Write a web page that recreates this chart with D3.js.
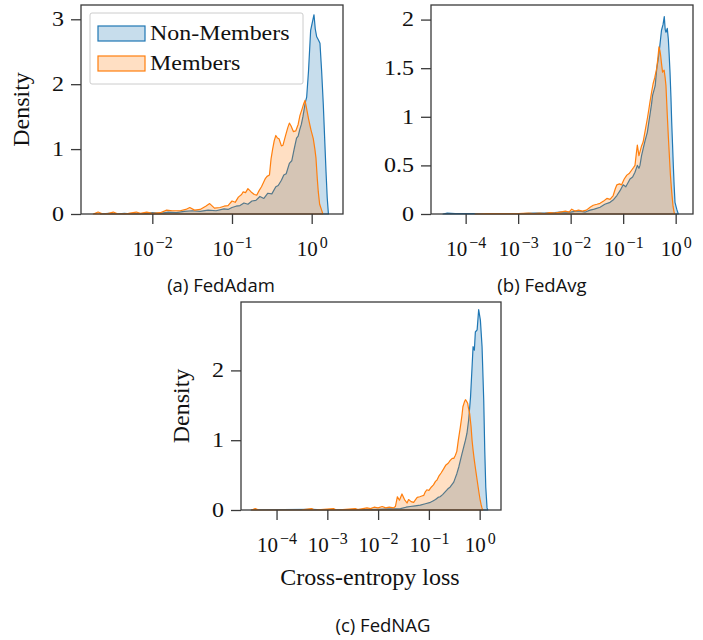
<!DOCTYPE html>
<html lang="en">
<head>
<meta charset="UTF-8">
<title>Loss density, members vs non-members</title>
<script src="https://cdn.jsdelivr.net/npm/d3@7"></script>
<style>
  body { margin: 0; background: #fff; }
</style>
</head>
<body>
<script>
// each point: [log10(cross-entropy loss), density]
const adamNon = [[-2.65,0],[-2.55,0.01],[-2.45,0],[-2.35,0.01],[-2.25,0],[-2.1,0.01],[-2.0,0.02],[-1.9,0.01],[-1.8,0.03],
  [-1.7,0.02],[-1.6,0.04],[-1.5,0.05],[-1.4,0.04],[-1.3,0.06],[-1.2,0.05],[-1.1,0.08],[-1.05,0.07],[-1.0,0.10],[-0.95,0.12],
  [-0.9,0.13],[-0.85,0.17],[-0.8,0.15],[-0.75,0.2],[-0.7,0.21],[-0.65,0.27],[-0.6,0.24],[-0.55,0.32],[-0.5,0.31],[-0.45,0.42],
  [-0.42,0.44],[-0.38,0.52],[-0.35,0.6],[-0.32,0.62],[-0.28,0.78],[-0.25,0.82],[-0.22,1.0],[-0.19,1.17],[-0.17,1.2],[-0.15,1.3],
  [-0.13,1.38],[-0.11,1.5],[-0.08,1.72],[-0.063,1.8],[-0.04,2.2],[-0.013,2.83],[0.029,3.07],[0.045,2.85],[0.063,2.73],
  [0.085,2.68],[0.104,2.63],[0.125,2.2],[0.146,1.68],[0.165,1.1],[0.18,0.65],[0.195,0.25],[0.21,0]];
const adamMem = [[-2.74,0],[-2.68,0.03],[-2.62,0],[-2.55,0.01],[-2.49,0.03],[-2.43,0],[-2.3,0.01],[-2.2,0.03],[-2.15,0.01],
  [-2.07,0.03],[-2.0,0.01],[-1.9,0.02],[-1.82,0.06],[-1.75,0.05],[-1.65,0.05],[-1.58,0.07],[-1.53,0.1],[-1.47,0.06],[-1.40,0.07],
  [-1.33,0.12],[-1.28,0.16],[-1.22,0.09],[-1.15,0.1],[-1.1,0.12],[-1.05,0.13],[-1.0,0.2],[-0.96,0.18],[-0.92,0.26],[-0.88,0.3],
  [-0.86,0.34],[-0.83,0.33],[-0.80,0.39],[-0.76,0.34],[-0.72,0.3],[-0.69,0.29],[-0.66,0.36],[-0.63,0.42],[-0.58,0.55],
  [-0.56,0.58],[-0.53,0.6],[-0.51,0.85],[-0.49,1.0],[-0.47,1.13],[-0.45,1.21],[-0.43,1.17],[-0.41,1.16],[-0.38,1.05],
  [-0.36,1.06],[-0.33,1.2],[-0.30,1.33],[-0.28,1.40],[-0.26,1.36],[-0.23,1.27],[-0.2,1.28],[-0.17,1.38],[-0.147,1.52],
  [-0.12,1.62],[-0.1,1.7],[-0.084,1.75],[-0.06,1.6],[-0.04,1.47],[-0.01,1.3],[0.02,1.16],[0.04,1.0],[0.054,0.86],[0.07,0.55],
  [0.083,0.34],[0.1,0.15],[0.125,0.06],[0.14,0]];

const avgNon = [[-4.43,0],[-4.35,0.01],[-4.2,0.005],[-4.0,0.005],[-3.85,0.005],[-3.6,0],[-3.2,0.003],[-2.9,0.003],[-2.7,0.01],
  [-2.5,0.01],[-2.3,0.015],[-2.2,0.02],[-2.1,0.02],[-2.0,0.02],[-1.9,0.03],[-1.82,0.03],[-1.72,0.02],[-1.63,0.04],[-1.55,0.05],
  [-1.44,0.07],[-1.35,0.1],[-1.25,0.12],[-1.18,0.15],[-1.12,0.19],[-1.06,0.24],[-1.0,0.3],[-0.95,0.28],[-0.9,0.33],[-0.87,0.36],
  [-0.82,0.38],[-0.775,0.43],[-0.73,0.5],[-0.7,0.47],[-0.68,0.5],[-0.65,0.6],[-0.62,0.67],[-0.58,0.76],[-0.54,0.84],[-0.51,0.95],
  [-0.49,1.02],[-0.46,1.13],[-0.44,1.22],[-0.41,1.28],[-0.39,1.32],[-0.36,1.5],[-0.33,1.6],[-0.3,1.74],[-0.27,1.89],[-0.24,1.95],
  [-0.217,2.03],[-0.2,1.9],[-0.185,1.87],[-0.16,1.91],[-0.14,1.8],[-0.125,1.65],[-0.108,1.46],[-0.09,1.2],[-0.076,0.95],
  [-0.06,0.72],[-0.045,0.5],[-0.03,0.3],[-0.013,0.12],[0.02,0.05],[0.05,0]];
const avgMem = [[-3.82,0],[-3.6,0.003],[-3.3,0.003],[-3.0,0.005],[-2.8,0.01],[-2.7,0.005],[-2.6,0.01],[-2.5,0.005],[-2.4,0.015],
  [-2.3,0.01],[-2.2,0.02],[-2.1,0.03],[-2.03,0.02],[-1.98,0.05],[-1.92,0.03],[-1.85,0.04],[-1.78,0.03],[-1.7,0.04],[-1.63,0.07],
  [-1.57,0.09],[-1.5,0.1],[-1.44,0.11],[-1.38,0.13],[-1.31,0.16],[-1.25,0.15],[-1.19,0.19],[-1.15,0.26],[-1.12,0.3],[-1.07,0.31],
  [-1.03,0.3],[-0.98,0.36],[-0.93,0.4],[-0.88,0.42],[-0.84,0.45],[-0.8,0.48],[-0.775,0.5],[-0.75,0.62],[-0.73,0.71],[-0.7,0.6],
  [-0.68,0.64],[-0.65,0.7],[-0.62,0.74],[-0.58,0.86],[-0.54,0.98],[-0.51,1.08],[-0.49,1.15],[-0.46,1.25],[-0.43,1.34],[-0.4,1.4],
  [-0.36,1.5],[-0.34,1.6],[-0.318,1.72],[-0.3,1.68],[-0.286,1.63],[-0.27,1.55],[-0.25,1.46],[-0.22,1.48],[-0.2,1.4],[-0.185,1.32],
  [-0.16,1.02],[-0.14,0.8],[-0.12,0.6],[-0.1,0.4],[-0.076,0.23],[-0.05,0.08],[-0.03,0.02],[-0.02,0]];

const nagNon = [[-4.5,0],[-3.3,0.01],[-3.0,0],[-2.5,0.005],[-2.0,0.01],[-1.8,0.015],[-1.56,0.02],[-1.45,0.04],[-1.37,0.05],
  [-1.27,0.06],[-1.17,0.07],[-1.07,0.09],[-0.97,0.11],[-0.92,0.13],[-0.87,0.15],[-0.82,0.18],[-0.78,0.19],[-0.73,0.22],
  [-0.68,0.26],[-0.63,0.3],[-0.58,0.33],[-0.54,0.37],[-0.51,0.4],[-0.48,0.46],[-0.45,0.52],[-0.41,0.62],[-0.38,0.71],[-0.35,0.8],
  [-0.315,0.9],[-0.28,1.0],[-0.25,1.1],[-0.217,1.29],[-0.18,1.62],[-0.15,2.05],[-0.13,2.34],[-0.115,2.3],[-0.105,2.29],
  [-0.085,2.55],[-0.05,2.58],[-0.02,2.87],[0.014,2.72],[0.047,2.34],[0.08,1.57],[0.1,0.86],[0.12,0.33],[0.145,0.03],[0.16,0]];
const nagMem = [[-4.49,0],[-4.42,0.02],[-4.35,0],[-3.5,0.003],[-3.31,0.02],[-3.25,0],[-2.88,0.02],[-2.82,0],[-2.45,0.02],
  [-2.4,0.005],[-2.22,0.03],[-2.15,0.02],[-2.08,0.04],[-2.0,0.03],[-1.92,0.05],[-1.85,0.03],[-1.78,0.04],[-1.70,0.03],
  [-1.66,0.05],[-1.62,0.19],[-1.58,0.14],[-1.53,0.23],[-1.48,0.15],[-1.43,0.1],[-1.4,0.15],[-1.35,0.12],[-1.3,0.11],[-1.27,0.14],
  [-1.23,0.18],[-1.18,0.19],[-1.14,0.2],[-1.1,0.21],[-1.07,0.26],[-1.04,0.29],[-1.0,0.28],[-0.95,0.33],[-0.91,0.36],[-0.87,0.41],
  [-0.84,0.43],[-0.8,0.49],[-0.76,0.53],[-0.71,0.59],[-0.67,0.64],[-0.62,0.67],[-0.58,0.71],[-0.54,0.74],[-0.51,0.74],[-0.48,0.78],
  [-0.45,0.84],[-0.42,1.0],[-0.38,1.19],[-0.35,1.35],[-0.33,1.48],[-0.3,1.55],[-0.28,1.58],[-0.26,1.56],[-0.237,1.53],[-0.22,1.46],
  [-0.197,1.38],[-0.17,1.2],[-0.15,1.0],[-0.13,0.86],[-0.105,0.71],[-0.08,0.58],[-0.05,0.43],[-0.03,0.33],[-0.012,0.24],
  [0.01,0.14],[0.028,0.08],[0.045,0.03],[0.06,0]];

// tick exponents / values
const adamXTicks = [-2, -1, 0];
const avgXTicks = [-4, -3, -2, -1, 0];
const nagXTicks = [-4, -3, -2, -1, 0];
const adamYTicks = [0, 1, 2, 3];
const avgYTicks = [0, 0.5, 1, 1.5, 2];
const nagYTicks = [0, 1, 2];

const seriesNames = ['Non-Members', 'Members'];
const colors = ['#1f77b4', '#ff7f0e'];

const W = 703, H = 640;
const serif = '"Liberation Serif", "Times New Roman", serif';
const sans = '"Open Sans", "Noto Sans", sans-serif';
const axisColor = '#3a3a3a';

const svg = d3.select('body').append('svg')
    .attr('width', W)
    .attr('height', H);

// the source font is wider than Times, so widen text around its anchor
function widen(sel, k) {
    sel.each(function () {
        let t = d3.select(this);
        let tx = +t.attr('x') || 0, ty = +t.attr('y') || 0;
        t.attr('x', 0).attr('y', 0)
            .attr('transform', `translate(${tx},${ty}) scale(${k},1)`);
    });
}

const panels = [
    {caption: '(a) FedAdam', series: [adamNon, adamMem], left: 81, right: 343, top: 5, bottom: 214,
        xMin: -2.895, xMax: 0.393, yMax: 3.22, xTicks: adamXTicks, yTicks: adamYTicks,
        yLabel: [29, 109.5], legend: true, captionPos: [221, 292]},
    {caption: '(b) FedAvg', series: [avgNon, avgMem], left: 431, right: 693, top: 5, bottom: 214,
        xMin: -4.66, xMax: 0.33, yMax: 2.15, xTicks: avgXTicks, yTicks: avgYTicks,
        yLabel: null, legend: false, captionPos: [542, 292]},
    {caption: '(c) FedNAG', series: [nagNon, nagMem], left: 241, right: 501, top: 302, bottom: 510,
        xMin: -4.70, xMax: 0.42, yMax: 2.98, xTicks: nagXTicks, yTicks: nagYTicks,
        yLabel: [189, 406], xLabel: [370, 585], legend: false, captionPos: [383, 632]}
];

panels.forEach(p => {
    let x = d3.scaleLog()
        .domain([10 ** p.xMin, 10 ** p.xMax])
        .range([p.left, p.right]);
    let y = d3.scaleLinear()
        .domain([0, p.yMax])
        .range([p.bottom, p.top]);

    let area = d3.area()
        .x(d => x(10 ** d[0]))
        .y0(y(0))
        .y1(d => y(d[1]));

    // blue first, orange on top (blue edge shows through orange fill)
    p.series.forEach((data, i) => {
        svg.append('path')
            .datum(data)
            .attr('d', area)
            .attr('fill', colors[i])
            .attr('fill-opacity', 0.25)
            .attr('stroke', colors[i])
            .attr('stroke-width', 1.2)
            .attr('stroke-linejoin', 'round');
    });

    // y axis
    let gy = svg.append('g')
        .attr('transform', `translate(${p.left},0)`)
        .call(d3.axisLeft(y).tickValues(p.yTicks).tickSize(10).tickPadding(7).tickFormat(d => d));
    gy.select('.domain').remove();
    gy.selectAll('line').attr('stroke', axisColor).attr('stroke-width', 1.3);
    gy.selectAll('text')
        .attr('font-family', serif)
        .attr('font-size', 20)
        .attr('fill', '#111')
        .call(widen, 1.2);

    // x axis, labels as 10^e
    let gx = svg.append('g')
        .attr('transform', `translate(0,${p.bottom})`)
        .call(d3.axisBottom(x).tickValues(p.xTicks.map(e => 10 ** e)).tickSize(10).tickFormat(''));
    gx.select('.domain').remove();
    gx.selectAll('line').attr('stroke', axisColor).attr('stroke-width', 1.3);
    gx.selectAll('.tick').each(function (d) {
        let e = Math.round(Math.log10(d));
        let t = d3.select(this).select('text')
            .attr('y', 42)
            .attr('dy', null)
            .attr('font-family', serif)
            .attr('font-size', 21)
            .attr('fill', '#111')
            .text(null);
        t.append('tspan').text('10');
        t.append('tspan')
            .attr('font-size', 16)
            .attr('dy', -8.5)
            .attr('dx', 2)
            .text(e < 0 ? '\u2212' + (-e) : e);
    });

    // frame
    svg.append('rect')
        .attr('x', p.left)
        .attr('y', p.top)
        .attr('width', p.right - p.left)
        .attr('height', p.bottom - p.top)
        .attr('fill', 'none')
        .attr('stroke', axisColor)
        .attr('stroke-width', 1.3);

    if (p.yLabel) {
        svg.append('text')
            .attr('transform', `translate(${p.yLabel[0]},${p.yLabel[1]}) rotate(-90)`)
            .attr('text-anchor', 'middle')
            .attr('font-family', serif)
            .attr('font-size', 24)
            .attr('fill', '#111')
            .text('Density');
    }
    if (p.xLabel) {
        svg.append('text')
            .attr('x', p.xLabel[0])
            .attr('y', p.xLabel[1])
            .attr('text-anchor', 'middle')
            .attr('font-family', serif)
            .attr('font-size', 24)
            .attr('fill', '#111')
            .text('Cross-entropy loss');
    }

    svg.append('text')
        .attr('x', p.captionPos[0])
        .attr('y', p.captionPos[1])
        .attr('text-anchor', 'middle')
        .attr('font-family', sans)
        .attr('font-size', 18.5)
        .attr('fill', '#111')
        .text(p.caption);

    if (p.legend) {
        let lg = svg.append('g').attr('transform', 'translate(90,13)');
        lg.append('rect')
            .attr('width', 213)
            .attr('height', 71)
            .attr('rx', 2)
            .attr('fill', '#fff')
            .attr('fill-opacity', 0.85)
            .attr('stroke', '#cccccc')
            .attr('stroke-width', 1);
        seriesNames.forEach((name, i) => {
            lg.append('rect')
                .attr('x', 8)
                .attr('y', 13 + i * 30)
                .attr('width', 47)
                .attr('height', 15)
                .attr('fill', colors[i])
                .attr('fill-opacity', 0.25)
                .attr('stroke', colors[i])
                .attr('stroke-width', 1.2);
            lg.append('text')
                .attr('x', 60)
                .attr('y', 27 + i * 30)
                .attr('font-family', serif)
                .attr('font-size', 21)
                .attr('fill', '#111')
                .text(name)
                .call(widen, 1.14);
        });
    }
});
</script>
</body>
</html>
